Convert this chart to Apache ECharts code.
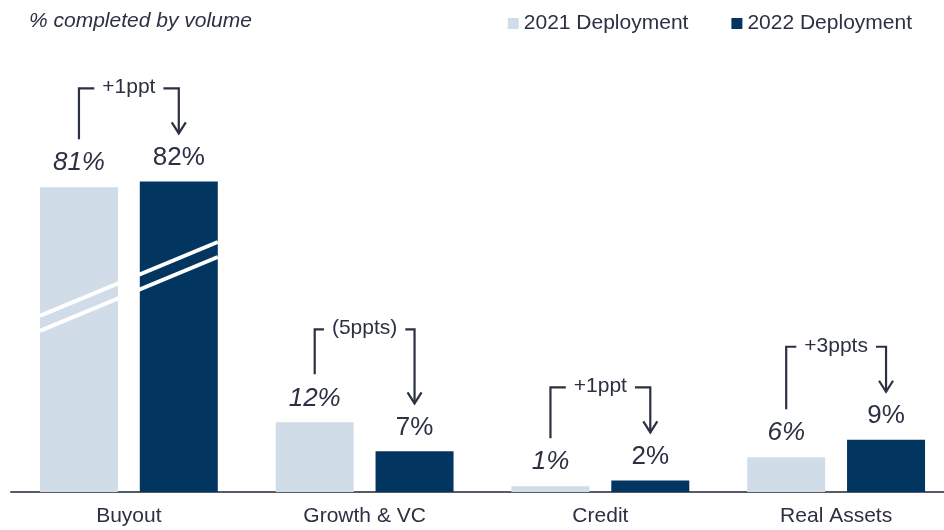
<!DOCTYPE html>
<html>
<head>
<meta charset="utf-8">
<script src="https://cdn.jsdelivr.net/npm/echarts@6/dist/echarts.min.js"></script>
<style>
  html, body { margin: 0; padding: 0; background: #fff; }
  #chart { width: 944px; height: 530px; }
</style>
</head>
<body>
<div id="chart"></div>
<script>
// Share of deployment completed, by strategy
const categories = ['Buyout', 'Growth & VC', 'Credit', 'Real Assets'];
const deploy2021 = [81, 12, 1, 6];
const deploy2022 = [82, 7, 2, 9];
const changeLabels = ['+1ppt', '(5ppts)', '+1ppt', '+3ppts'];
const seriesNames = ['2021 Deployment', '2022 Deployment'];
const subtitle = '% completed by volume';
// value range skipped on the y axis so the tall Buyout bars fit
const axisBreak = { start: 35, end: 65, gap: 1.5 };

const FONT = '"Liberation Sans", Arial, sans-serif';
const TEXT = '#2b3042';
const LIGHT = '#d0dde8';
const DARK = '#023661';
const BAR_W = 78;
const BAR_GAP = 0.28;
const HALF_SPACING = (BAR_W + BAR_W * BAR_GAP) / 2;

const bracketData = categories.map((c, i) => [i, deploy2021[i], deploy2022[i]]);
const breakData = [[0, axisBreak.start, axisBreak.end]];

function renderBracket(params, api) {
  const i = api.value(0);
  const cx = api.coord([i, 0])[0];
  const p1 = api.coord([i, api.value(1)]);
  const p2 = api.coord([i, api.value(2)]);
  const xl = cx - HALF_SPACING, xr = cx + HALF_SPACING;
  const yTop = Math.min(p1[1], p2[1]) - 93;
  const yl = p1[1] - 48, yr = p2[1] - 48;
  const stroke = { stroke: TEXT, lineWidth: 2.2, fill: 'none' };
  return {
    type: 'group',
    children: [
      { type: 'polyline', shape: { points: [[xl, yl], [xl, yTop], [xr, yTop], [xr, yr]] }, style: stroke },
      { type: 'polyline', shape: { points: [[xr - 7, yr - 11], [xr, yr], [xr + 7, yr - 11]] }, style: stroke },
      { type: 'text', x: cx, y: yTop - 1, z2: 10,
        style: { text: changeLabels[params.dataIndex], fill: TEXT, font: '21px ' + FONT,
                 align: 'center', verticalAlign: 'middle', backgroundColor: '#fff', padding: [2, 8] } }
    ]
  };
}

// slanted white strokes marking the axis break across the Buyout pair
function renderBreakMark(params, api) {
  const i = api.value(0);
  const cx = api.coord([i, 0])[0];
  const ya = api.coord([i, api.value(1)])[1];
  const yb = api.coord([i, api.value(2)])[1];
  const mid = (ya + yb) / 2 + 2;
  const half = HALF_SPACING + BAR_W / 2;
  const slope = 0.416, sep = 7.5;
  return {
    type: 'group',
    children: [-sep, sep].map(d => ({
      type: 'line',
      shape: { x1: cx - half, y1: mid + d + slope * half, x2: cx + half, y2: mid + d - slope * half },
      style: { stroke: '#fff', lineWidth: 4 }
    }))
  };
}

const labelBase = { show: true, position: 'top', distance: 11, formatter: '{c}%', color: TEXT, fontSize: 26, fontFamily: FONT };

const chart = echarts.init(document.getElementById('chart'), null, { renderer: 'canvas' });
chart.setOption({
  animation: false,
  backgroundColor: '#fff',
  title: {
    text: subtitle, left: 24, top: 6,
    textStyle: { fontSize: 21, fontStyle: 'italic', fontWeight: 'normal', color: TEXT, fontFamily: FONT }
  },
  legend: {
    data: seriesNames, right: 27, top: 8, icon: 'rect', itemWidth: 11, itemHeight: 11, itemGap: 43,
    textStyle: { fontSize: 21, color: TEXT, fontFamily: FONT }
  },
  grid: { left: 11, right: -10, top: 135, bottom: 38, outerBoundsMode: 'none' },
  xAxis: {
    type: 'category', data: categories,
    axisTick: { show: false },
    axisLine: { lineStyle: { color: '#575b67', width: 2 } },
    axisLabel: { color: TEXT, fontSize: 21, margin: 14, fontFamily: FONT }
  },
  yAxis: {
    type: 'value', min: 0, max: 90,
    breaks: [axisBreak],
    breakArea: { show: false },
    axisLine: { show: false }, axisTick: { show: false }, axisLabel: { show: false }, splitLine: { show: false }
  },
  series: [
    { name: seriesNames[0], type: 'bar', data: deploy2021, barWidth: BAR_W, barGap: (BAR_GAP * 100) + '%',
      itemStyle: { color: LIGHT }, label: Object.assign({}, labelBase, { fontStyle: 'italic' }), z: 2 },
    { name: seriesNames[1], type: 'bar', data: deploy2022, barWidth: BAR_W, barGap: (BAR_GAP * 100) + '%',
      itemStyle: { color: DARK }, label: labelBase, z: 2 },
    { type: 'custom', data: bracketData, renderItem: renderBracket, encode: { x: 0, y: [1, 2] }, clip: false, z: 4, silent: true },
    { type: 'custom', data: breakData, renderItem: renderBreakMark, encode: { x: 0, y: [1, 2] }, clip: false, z: 5, silent: true }
  ]
});
</script>
</body>
</html>
